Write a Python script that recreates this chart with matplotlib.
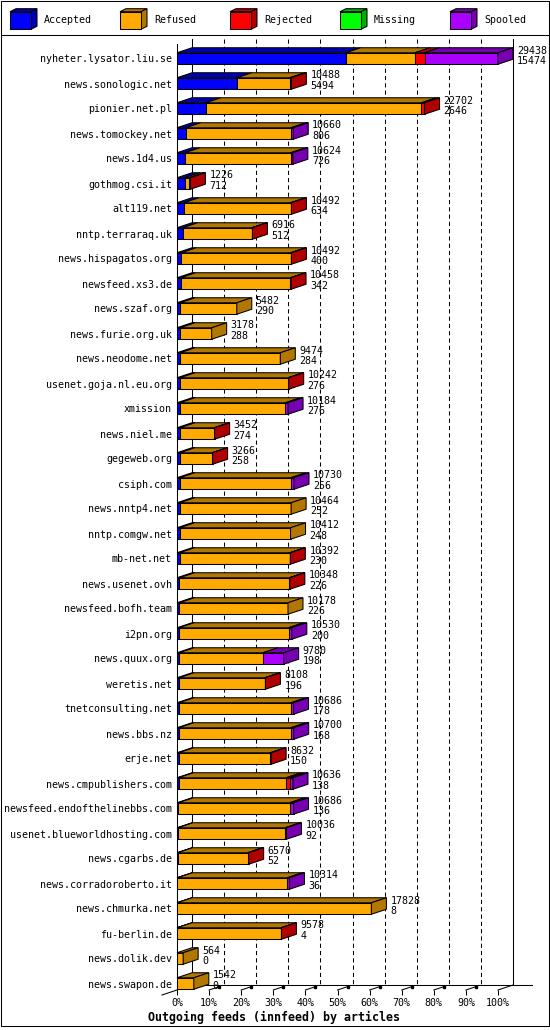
import numpy as np
import matplotlib
matplotlib.use('Agg')
import matplotlib.pyplot as plt
from matplotlib.patches import Polygon, Rectangle

hosts = [
    'nyheter.lysator.liu.se', 'news.sonologic.net', 'pionier.net.pl', 'news.tomockey.net',
    'news.1d4.us', 'gothmog.csi.it', 'alt119.net', 'nntp.terraraq.uk', 'news.hispagatos.org',
    'newsfeed.xs3.de', 'news.szaf.org', 'news.furie.org.uk', 'news.neodome.net',
    'usenet.goja.nl.eu.org', 'xmission', 'news.niel.me', 'gegeweb.org', 'csiph.com',
    'news.nntp4.net', 'nntp.comgw.net', 'mb-net.net', 'news.usenet.ovh', 'newsfeed.bofh.team',
    'i2pn.org', 'news.quux.org', 'weretis.net', 'tnetconsulting.net', 'news.bbs.nz', 'erje.net',
    'news.cmpublishers.com', 'newsfeed.endofthelinebbs.com', 'usenet.blueworldhosting.com',
    'news.cgarbs.de', 'news.corradoroberto.it', 'news.chmurka.net', 'fu-berlin.de',
    'news.dolik.dev', 'news.swapon.de',
]
offered = [29438, 10488, 22702, 10660, 10624, 1226, 10492, 6916, 10492, 10458, 5482, 3178,
           9474, 10242, 10184, 3452, 3266, 10730, 10464, 10412, 10392, 10348, 10178, 10530,
           9780, 8108, 10686, 10700, 8632, 10636, 10686, 10036, 6570, 10314, 17828, 9578,
           564, 1542]
accepted = [15474, 5494, 2646, 806, 726, 712, 634, 512, 400, 342, 290, 288, 284, 276, 276,
            274, 258, 256, 252, 248, 230, 226, 226, 200, 198, 196, 178, 168, 150, 138, 136,
            92, 52, 36, 8, 4, 0, 0]
refused = [6350, 4844, 19756, 9624, 9698, 414, 9778, 6344, 10032, 10056, 5192, 2890, 9190,
           9916, 9658, 3128, 2958, 10174, 10212, 10164, 10112, 10072, 9952, 10030, 7682,
           7862, 10258, 10262, 8402, 9868, 10200, 9824, 6418, 10078, 17820, 9514, 564, 1542]
rejected = [880, 150, 300, 0, 0, 100, 80, 60, 60, 60, 0, 0, 0, 50, 0, 50, 50, 0, 0, 0, 50,
            50, 0, 0, 0, 50, 0, 0, 80, 360, 0, 0, 100, 0, 0, 60, 0, 0]
missing = [0] * 38
spooled = [6734, 0, 0, 230, 200, 0, 0, 0, 0, 0, 0, 0, 0, 0, 250, 0, 0, 300, 0, 0, 0, 0, 0,
           300, 1900, 0, 250, 270, 0, 270, 350, 120, 0, 200, 0, 0, 0, 0]

series_names = ['Accepted', 'Refused', 'Rejected', 'Missing', 'Spooled']
front_colors = ['#0000ff', '#ffaa00', '#ff0000', '#00ff00', '#aa00ff']
shade_colors = ['#0000b0', '#b27700', '#b00000', '#00b000', '#7700b0']
tick_labels = ['0%', '10%', '20%', '30%', '40%', '50%', '60%', '70%', '80%', '90%', '100%']

FONT = 'DejaVu Sans Mono'
FS = 7.2
LW = 0.75

W, H = 550, 1030
fig = plt.figure(figsize=(W / 100, H / 100), dpi=100)

# background axes in pixel units: frame, legend, title
bg = fig.add_axes([0, 0, 1, 1], zorder=0)
bg.set_xlim(0, W)
bg.set_ylim(H, 0)
bg.axis('off')
bg.add_patch(Rectangle((0.5, 0.5), W - 2, H - 5, fill=False, ec='black', lw=LW))
bg.plot([0.5, W - 1.5], [34.5, 34.5], color='black', lw=LW)

for j, name in enumerate(series_names):
    x = 10 + 110 * j
    bg.add_patch(Polygon([(x, 11.7), (x + 21, 11.7), (x + 27, 8.7), (x + 6, 8.7)],
                         fc=shade_colors[j], ec='black', lw=LW))
    bg.add_patch(Polygon([(x + 21, 11.7), (x + 27, 8.7), (x + 27, 26.3), (x + 21, 29.3)],
                         fc=shade_colors[j], ec='black', lw=LW))
    bg.add_patch(Rectangle((x, 11.7), 21, 17.6, fc=front_colors[j], ec='black', lw=LW))
    bg.text(x + 34, 20, name, ha='left', va='center', family=FONT, fontsize=FS)

bg.text(274, 1017, 'Outgoing feeds (innfeed) by articles', ha='center', va='center',
        family=FONT, fontsize=8.4, fontweight='bold')

# main plot, front plane
X0, X1 = 177, 498
Y0, Y1 = 44, 990
ROW0, ROW_STEP = 58.5, 25
ax = fig.add_axes([X0 / W, (H - Y1) / H, (X1 - X0) / W, (Y1 - Y0) / H], zorder=1)
ax.set_facecolor('none')
xmax = max(offered)
ax.set_xlim(0, xmax)
ytop = (Y0 - ROW0) / ROW_STEP
ybot = (Y1 - ROW0) / ROW_STEP
ax.set_ylim(ybot, ytop)

px_x = xmax / (X1 - X0)
px_y = 1 / ROW_STEP
DX = 15 * px_x
DY = 5 * px_y
half = 5.75 * px_y

# back plane lines
grid_ls = (0, (4, 3))
for p in range(1, 10):
    gx = p * xmax / 10 + DX
    ax.plot([gx, gx], [ytop - DY, ybot - DY], color='black', lw=LW, ls=grid_ls,
            clip_on=False, zorder=1)
ax.plot([DX, DX], [ytop - DY, ybot - DY], color='black', lw=LW, clip_on=False, zorder=1)
ax.plot([xmax + DX, xmax + DX], [ytop - DY, ybot - DY], color='black', lw=LW,
        clip_on=False, zorder=1)
ax.plot([DX, xmax + DX + 19 * px_x], [ybot - DY, ybot - DY], color='black', lw=LW,
        clip_on=False, zorder=1)
ax.plot([xmax, xmax + DX], [ybot, ybot - DY], color='black', lw=LW, clip_on=False, zorder=1)
ax.plot([-DX, 0], [ybot + DY, ybot], color='black', lw=LW, clip_on=False, zorder=1)
for p in range(1, 10):
    tx = p * xmax / 10
    ax.plot([tx, tx + 0.67 * DX], [ybot, ybot - 0.67 * DY], color='black', lw=LW,
            clip_on=False, zorder=1)
    ax.plot([tx + 0.67 * DX], [ybot - 0.67 * DY], marker='s', ms=2, color='black',
            clip_on=False, zorder=1)

# 3d stacked bars
for i in range(len(hosts)):
    vals = [accepted[i], refused[i], rejected[i], missing[i], spooled[i]]
    yt, yb = i - half, i + half
    left = 0
    last = max(k for k, v in enumerate(vals) if v > 0)
    for k, v in enumerate(vals):
        if v <= 0:
            continue
        right = left + v
        ax.add_patch(Polygon([(left, yt), (right, yt), (right + DX, yt - DY), (left + DX, yt - DY)],
                             fc=shade_colors[k], ec='black', lw=LW, clip_on=False, zorder=3))
        ax.add_patch(Rectangle((left, yt), v, yb - yt, fc=front_colors[k], ec='black',
                               lw=LW, clip_on=False, zorder=4))
        if k == last:
            ax.add_patch(Polygon([(right, yt), (right + DX, yt - DY), (right + DX, yb - DY),
                                  (right, yb)],
                                 fc=shade_colors[k], ec='black', lw=LW, clip_on=False, zorder=4))
        left = right
    lx = offered[i] + DX + 4 * px_x
    ax.text(lx, i - 8 * px_y, str(offered[i]), ha='left', va='center', family=FONT,
            fontsize=FS, clip_on=False, zorder=5)
    ax.text(lx, i + 2.5 * px_y, str(accepted[i]), ha='left', va='center', family=FONT,
            fontsize=FS, clip_on=False, zorder=5)

for side in ['top', 'right', 'bottom']:
    ax.spines[side].set_visible(False)
ax.spines['left'].set_linewidth(LW)
ax.spines['left'].set_zorder(2)

ax.set_xticks(np.arange(11) * xmax / 10)
ax.set_xticklabels(tick_labels, family=FONT, fontsize=FS)
ax.tick_params(axis='x', length=3.6, width=LW, direction='out', pad=2)
ax.set_yticks(range(len(hosts)))
ax.set_yticklabels(hosts, family=FONT, fontsize=FS)
ax.tick_params(axis='y', length=0, pad=3.6)

fig.savefig('out.png', dpi=100)
